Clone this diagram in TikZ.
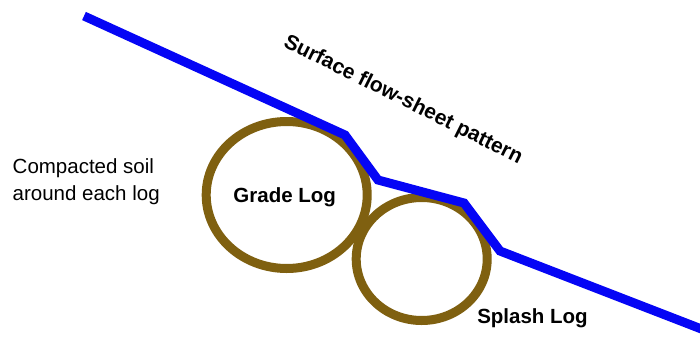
\documentclass[tikz,border=0pt]{standalone}
\usepackage{fontspec}
\setmainfont{Liberation Sans}
\begin{document}
\begin{tikzpicture}[x=1pt,y=-1pt,
  logline/.style={draw=logbrown,line width=9pt},
  flowline/.style={draw=flowblue,line width=9pt,line join=miter},
  boldlabel/.style={font=\fontsize{20.5}{24}\selectfont\bfseries,inner sep=0pt},
  plainlabel/.style={font=\fontsize{20.5}{27}\selectfont,inner sep=0pt,align=left}]
\definecolor{logbrown}{RGB}{127,96,16}
\definecolor{flowblue}{RGB}{5,5,245}
\useasboundingbox[fill=white] (0,0) rectangle (700,337);
% logs
\draw[logline] (286.7,195) ellipse [x radius=80.5, y radius=73.5];
\draw[logline] (421.7,259) ellipse [x radius=65.5, y radius=61.5];
% surface flow line
\coordinate (p0) at (84,16);
\coordinate (p1) at (345,135);
\coordinate (p2) at (378,180);
\coordinate (p3) at (464,203);
\coordinate (p4) at (500,251);
\coordinate (p5) at (704,330);
\draw[flowline] (p0) -- (p1) -- (p2) -- (p3) -- (p4) -- (p5);
% labels
\node[boldlabel,font=\fontsize{21}{24}\selectfont\bfseries,rotate=-26.5,anchor=base] (surf) at (400.5,105) {Surface flow-sheet pattern};
\node[boldlabel,anchor=base] (grade) at (284.7,202.5) {Grade Log};
\node[boldlabel,anchor=base] (splash) at (532.5,323) {Splash Log};
\node[plainlabel,anchor=base west] (soil) at (12.5,200) {Compacted soil\\around each log};
\end{tikzpicture}
\end{document}
